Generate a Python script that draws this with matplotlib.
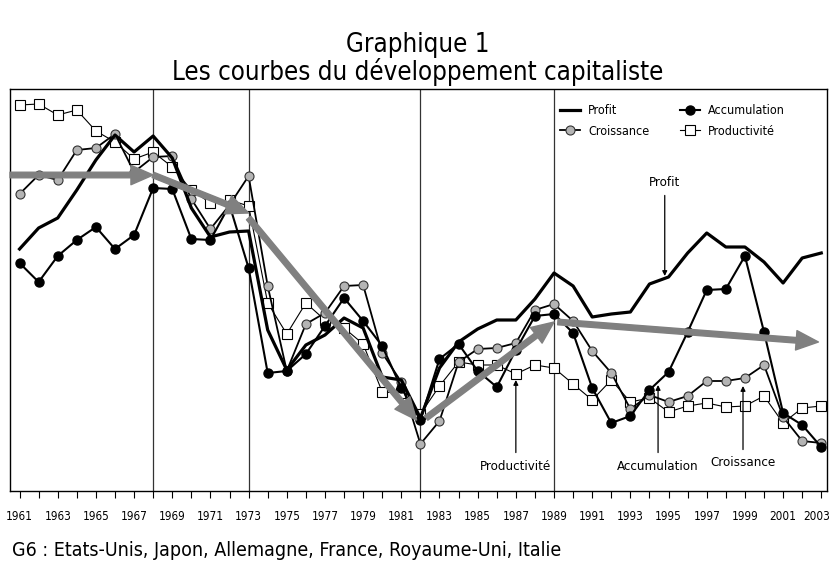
import numpy as np
import matplotlib
matplotlib.use("Agg")
import matplotlib.pyplot as plt
from matplotlib import font_manager
from matplotlib.transforms import ScaledTranslation

# --- données (indices) ---
years = np.arange(1961, 2004)

profit = [251, 272, 282, 310, 340, 365, 348, 364, 342, 292, 263, 268, 269, 170, 130,
          155, 165, 182, 172, 123, 120, 82, 132, 158, 171, 180, 180, 201, 227, 214,
          183, 186, 188, 216, 223, 247, 267, 253, 253, 238, 217, 242, 247]
accumulation = [237, 218, 244, 260, 273, 251, 265, 312, 311, 261, 260, 295, 232, 127, 129,
                146, 174, 202, 179, 154, 112, 80, 141, 156, 129, 113, 150, 184, 186, 167,
                112, 77, 84, 110, 128, 168, 210, 211, 244, 168, 87, 75, 53]
croissance = [306, 325, 320, 350, 352, 366, 328, 343, 344, 301, 271, 295, 324, 214, 129,
              176, 187, 214, 215, 147, 118, 56, 79, 138, 151, 152, 157, 190, 196, 179,
              149, 127, 91, 105, 98, 104, 119, 119, 122, 135, 83, 59, 57]
productivite = [395, 396, 385, 390, 369, 358, 341, 348, 333, 310, 297, 300, 294, 197, 166,
                197, 180, 172, 156, 108, 107, 86, 114, 138, 135, 135, 126, 135, 132, 116,
                100, 120, 98, 102, 88, 94, 97, 93, 94, 104, 77, 92, 94]

# ruptures et tendances (flèches grises)
breaks = [1968, 1973, 1982, 1989]
trend_x = [(1960.5, 1968.0), (1968.0, 1973.0), (1973.0, 1981.8), (1982.3, 1989.0), (1989.2, 2002.85)]
trend_y = [(325, 325), (325, 287), (282, 80), (82, 178), (178, 158)]

# étiquettes fléchées : texte, x, y du texte, y de la pointe
labels = [('Profit', 1994.8, 318, 224),
          ('Productivité', 1987.0, 34, 120),
          ('Accumulation', 1994.45, 34, 115),
          ('Croissance', 1998.9, 37, 114)]

# police condensée
fp = dict(family=['Liberation Sans Narrow', 'DejaVu Sans'], stretch='condensed')

fig = plt.figure(figsize=(8.32, 5.62), dpi=100)
ax = fig.add_axes([10/832, 71/562, 817/832, 402/562])

for b in breaks:
    ax.axvline(b, color='#333333', lw=0.9, zorder=1)

ax.plot(years, productivite, color='black', lw=0.8, marker='s', ms=7,
        mfc='white', mec='black', mew=0.8, label='Productivité', zorder=3)
ax.plot(years, croissance, color='black', lw=1.3, marker='o', ms=6.5,
        mfc='#b4b4b4', mec='#333333', mew=0.8, label='Croissance', zorder=4)
ax.plot(years, accumulation, color='black', lw=1.5, marker='o', ms=6.5,
        mfc='black', mec='black', label='Accumulation', zorder=5)
ax.plot(years, profit, color='black', lw=2.3, label='Profit', zorder=6)

for (x0, x1), (y0, y1) in zip(trend_x, trend_y):
    ax.annotate('', xy=(x1, y1), xytext=(x0, y0),
                arrowprops=dict(arrowstyle='simple,head_width=0.7,head_length=0.8,tail_width=0.2',
                                color='#808080', mutation_scale=20, shrinkA=0, shrinkB=0),
                zorder=7)

for txt, x, yt, ytip in labels:
    ax.annotate(txt, xy=(x, ytip), xytext=(x, yt), ha='center', va='center',
                fontsize=9.5, **fp,
                arrowprops=dict(arrowstyle='-|>', color='black', lw=0.9, mutation_scale=7,
                                shrinkA=3, shrinkB=0))

h, l = ax.get_legend_handles_labels()
order = [3, 1, 2, 0]
ax.legend([h[i] for i in order], [l[i] for i in order], ncol=2, loc='upper left',
          bbox_to_anchor=(0.66, 0.99), frameon=False,
          prop=font_manager.FontProperties(size=9, **fp),
          handlelength=1.6, columnspacing=2.5, labelspacing=0.6, handletextpad=0.6)

ax.set_xlim(1960.5, 2003.3)
ax.set_ylim(9, 411)
ax.set_yticks([])
ax.set_xticks(years, minor=True)
ax.set_xticks(years[::2])
ax.set_xticklabels([str(y) for y in years[::2]], fontsize=8.5, **fp)
ax.tick_params(axis='x', which='both', direction='out', length=5, width=0.8, pad=9)
# décale légèrement la dernière étiquette pour qu'elle reste dans l'image
last = ax.get_xticklabels()[-1]
last.set_transform(last.get_transform() + ScaledTranslation(-5/100, 0, fig.dpi_scale_trans))
for s in ax.spines.values():
    s.set_linewidth(1.0)

fig.text(418/832, 1 - 45/562, 'Graphique 1', ha='center', va='center', fontsize=18.5, **fp)
fig.text(418/832, 1 - 72/562, 'Les courbes du développement capitaliste', ha='center', va='center',
         fontsize=18.5, **fp)
fig.text(12/832, 1 - 550/562, 'G6 : Etats-Unis, Japon, Allemagne, France, Royaume-Uni, Italie',
         ha='left', va='center', fontsize=14, **fp)

fig.savefig('out.png', dpi=100)
